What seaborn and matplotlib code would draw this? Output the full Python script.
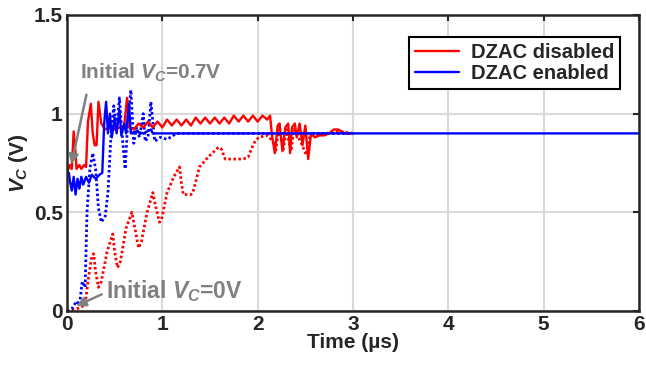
import numpy as np
import pandas as pd
import matplotlib
matplotlib.use("Agg")
import matplotlib.pyplot as plt
import seaborn as sns

# DZAC disabled, initial Vc = 0.7 V (red solid)
dis_hi_t = [0, 0.03, 0.05, 0.07, 0.09, 0.10, 0.13, 0.15, 0.18, 0.20, 0.22, 0.25, 0.27,
            0.29, 0.31, 0.33, 0.36, 0.40, 0.45, 0.50, 0.55, 0.60, 0.63, 0.65,
            0.70, 0.75, 0.80, 0.85, 0.90, 0.95, 1.00, 1.05, 1.10, 1.15, 1.20, 1.25,
            1.30, 1.35, 1.40, 1.45, 1.50, 1.55, 1.60, 1.65, 1.70, 1.75, 1.80, 1.85,
            1.90, 1.95, 2.00, 2.05, 2.10, 2.13, 2.15, 2.18, 2.21, 2.23, 2.26, 2.29,
            2.32, 2.34, 2.36, 2.39, 2.41, 2.44, 2.47, 2.50, 2.53, 2.56, 2.60, 2.65,
            2.70, 2.75, 2.80, 2.84, 2.88, 2.92, 3.00]
dis_hi_v = [0.70, 0.74, 0.72, 0.91, 0.80, 0.72, 0.74, 0.72, 0.74, 0.73, 0.96, 1.05, 0.90,
            0.84, 0.84, 1.06, 0.95, 0.92, 0.93, 0.92, 0.93, 0.94, 1.08, 0.93,
            0.92, 0.95, 0.93, 0.96, 0.93, 0.96, 0.93, 0.97, 0.94, 0.97, 0.94, 0.97,
            0.94, 0.98, 0.95, 0.98, 0.95, 0.98, 0.95, 0.98, 0.95, 0.99, 0.96, 0.99,
            0.96, 0.99, 0.96, 0.99, 0.97, 0.99, 0.89, 0.80, 0.94, 0.95, 0.81, 0.93,
            0.95, 0.80, 0.93, 0.95, 0.88, 0.95, 0.84, 0.94, 0.77, 0.90, 0.88, 0.89,
            0.89, 0.90, 0.92, 0.92, 0.91, 0.90, 0.90]

# DZAC disabled, initial Vc = 0 V (red dotted)
dis_lo_t = [0, 0.10, 0.19, 0.22, 0.26, 0.28, 0.30, 0.33, 0.36, 0.42, 0.48, 0.50, 0.53,
            0.56, 0.62, 0.68, 0.72, 0.75, 0.78, 0.84, 0.90, 0.93, 0.97, 0.99, 1.05,
            1.12, 1.18, 1.20, 1.22, 1.30, 1.32, 1.39, 1.48, 1.59, 1.62, 1.66, 1.75,
            1.85, 1.90, 1.96, 2.01, 2.10, 2.16, 2.19, 2.22, 2.27, 2.30, 2.35, 2.38,
            2.45, 2.51, 2.55, 2.65, 2.80, 2.85, 3.00]
dis_lo_v = [0, 0.01, 0.03, 0.15, 0.28, 0.29, 0.20, 0.12, 0.15, 0.30, 0.39, 0.30, 0.22,
            0.25, 0.42, 0.50, 0.40, 0.32, 0.35, 0.50, 0.60, 0.53, 0.45, 0.46, 0.60,
            0.68, 0.73, 0.65, 0.59, 0.59, 0.60, 0.73, 0.78, 0.83, 0.82, 0.77, 0.77,
            0.77, 0.78, 0.85, 0.88, 0.89, 0.86, 0.81, 0.93, 0.82, 0.92, 0.81, 0.92,
            0.86, 0.79, 0.89, 0.89, 0.91, 0.91, 0.90]

# DZAC enabled, initial Vc = 0.7 V (blue solid)
en_hi_t = [0, 0.02, 0.03, 0.05, 0.07, 0.09, 0.11, 0.13, 0.15, 0.17, 0.20, 0.23, 0.26,
           0.30, 0.34, 0.37, 0.39, 0.41, 0.43, 0.45, 0.47, 0.50, 0.52, 0.55, 0.57,
           0.60, 0.62, 0.65, 0.67, 0.72, 0.80, 0.88, 0.90, 1.00, 6.00]
en_hi_v = [0.70, 0.70, 0.66, 0.61, 0.68, 0.59, 0.67, 0.62, 0.68, 0.64, 0.68, 0.65, 0.69,
           0.67, 0.69, 0.70, 0.95, 1.06, 0.90, 1.00, 0.88, 0.98, 0.90, 1.02, 0.89,
           0.95, 0.90, 1.05, 0.90, 0.91, 0.90, 0.92, 0.90, 0.90, 0.90]

# DZAC enabled, initial Vc = 0 V (blue dotted)
en_lo_t = [0, 0.05, 0.10, 0.13, 0.16, 0.19, 0.21, 0.24, 0.27, 0.30, 0.33, 0.36, 0.40,
           0.43, 0.46, 0.49, 0.52, 0.55, 0.58, 0.61, 0.64, 0.67, 0.70, 0.73, 0.76,
           0.80, 0.82, 0.85, 0.88, 0.92, 0.98, 1.05, 1.15, 3.00]
en_lo_v = [0, 0.01, 0.05, 0.03, 0.15, 0.12, 0.50, 0.72, 0.80, 0.72, 0.52, 0.45, 0.48,
           0.60, 0.88, 1.04, 0.92, 1.08, 0.88, 0.72, 0.98, 1.12, 0.85, 0.93, 0.88,
           1.00, 0.86, 0.88, 1.06, 0.86, 0.88, 0.87, 0.90, 0.90]

x_ticks = [0, 1, 2, 3, 4, 5, 6]
y_ticks = [0, 0.5, 1, 1.5]
y_labels = ["0", "0.5", "1", "1.5"]

sns.set_style("whitegrid")
plt.rcParams["font.family"] = ["Liberation Sans", "DejaVu Sans"]
plt.rcParams["font.weight"] = "bold"
plt.rcParams["mathtext.fontset"] = "custom"
plt.rcParams["mathtext.it"] = "Liberation Sans:italic:bold"
plt.rcParams["mathtext.rm"] = "Liberation Sans:bold"

fig = plt.figure(figsize=(6.46, 3.68), dpi=100)
ax = fig.add_axes([67 / 646, 1 - 311 / 368, 572 / 646, 296 / 368])

dots = (0, (0.9, 0.9))
sns.lineplot(x=dis_lo_t, y=dis_lo_v, ax=ax, color="#ff0000", lw=2.0, linestyle=dots, sort=False)
sns.lineplot(x=en_lo_t, y=en_lo_v, ax=ax, color="#0000ff", lw=2.0, linestyle=dots, sort=False)
sns.lineplot(x=dis_hi_t, y=dis_hi_v, ax=ax, color="#ff0000", lw=1.7, sort=False, label="DZAC disabled")
sns.lineplot(x=en_hi_t, y=en_hi_v, ax=ax, color="#0000ff", lw=1.7, sort=False, label="DZAC enabled")

ax.set_xlim(0, 6)
ax.set_ylim(0, 1.5)
ax.set_xticks(x_ticks)
ax.set_yticks(y_ticks)
ax.set_yticklabels(y_labels)
ax.grid(True, color="#d9d9d9", lw=1.5)
for s in ax.spines.values():
    s.set_color("#262626")
    s.set_linewidth(1.8)
ax.tick_params(direction="in", length=4, width=1.5, color="#262626", labelsize=15,
               top=True, right=True, pad=3)
ax.set_xlabel("Time (µs)", fontsize=15, fontweight="bold", labelpad=-1)
ax.set_ylabel(r"$V_C$ (V)", fontsize=15, fontweight="bold", labelpad=3)

gray = "#808080"
ax.annotate("", xy=(0.04, 0.73), xytext=(0.21, 1.11),
            arrowprops=dict(arrowstyle="-|>", color=gray, lw=1.8, mutation_scale=14))
ax.annotate("", xy=(0.07, 0.02), xytext=(0.39, 0.09),
            arrowprops=dict(arrowstyle="-|>", color=gray, lw=1.8, mutation_scale=14))
ax.text(0.14, 1.205, r"Initial $V_C$=0.7V", color=gray, fontsize=15, fontweight="bold",
        va="center", ha="left")
ax.text(0.41, 0.10, r"Initial $V_C$=0V", color=gray, fontsize=16.5, fontweight="bold",
        va="center", ha="left")

leg = ax.legend(loc="upper right", fontsize=14.5, frameon=True, fancybox=False,
                borderpad=0.3, handlelength=2.2, handletextpad=0.6, labelspacing=0.1,
                bbox_to_anchor=(0.985, 0.96))
leg.get_frame().set_edgecolor("black")
leg.get_frame().set_linewidth(1.5)
leg.get_frame().set_alpha(1)
for t in leg.get_texts():
    t.set_fontweight("bold")

fig.savefig("out.png", dpi=100)
